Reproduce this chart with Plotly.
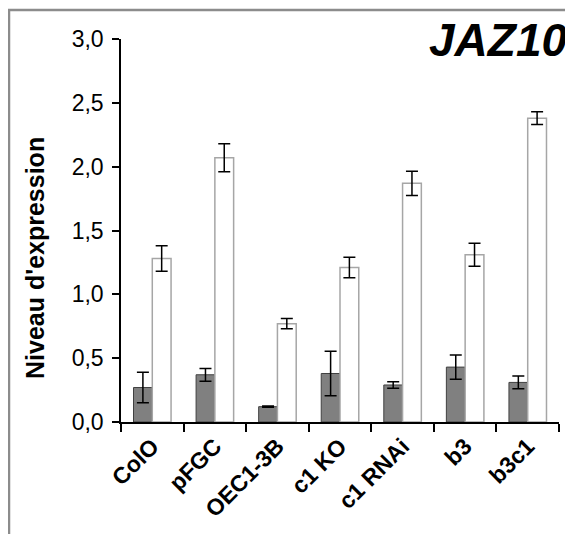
import plotly.graph_objects as go

# ── Data ──────────────────────────────────────────────────────────────────────
lines = ["ColO", "pFGC", "OEC1-3B", "c1 KO", "c1 RNAi", "b3", "b3c1"]
dark_vals = [0.27, 0.37, 0.12, 0.38, 0.29, 0.43, 0.31]
dark_err = [0.12, 0.05, 0.005, 0.175, 0.025, 0.095, 0.05]
white_vals = [1.28, 2.07, 0.77, 1.21, 1.87, 1.31, 2.38]
white_err = [0.10, 0.11, 0.04, 0.08, 0.095, 0.09, 0.05]
y_ticks = [0, 0.5, 1.0, 1.5, 2.0, 2.5, 3.0]

# ── Geometry (pixels) ─────────────────────────────────────────────────────────
# the page body has an 8px margin, so the figure is drawn 8px in from the corner
OFF = 8
W, H = 573 - OFF, 534 - OFF
ML, MR, MT, MB = 113, 14, 31, 112
PW, PH = W - ML - MR, H - MT - MB
FONT = "Liberation Sans, Arial, sans-serif"


def px_x(x):
    # x in window pixels -> paper coords
    return (x - OFF - ML) / PW


def px_y(y):
    return 1 - (y - OFF - MT) / PH


fig = go.Figure()
fig.add_trace(go.Bar(
    x=lines, y=dark_vals,
    marker=dict(color="#808080", line=dict(color="#404040", width=1)),
    error_y=dict(type="data", array=dark_err, color="#000000",
                 thickness=1.5, width=6),
    showlegend=False,
))
fig.add_trace(go.Bar(
    x=lines, y=white_vals,
    marker=dict(color="#ffffff", line=dict(color="#a6a6a6", width=1.5)),
    error_y=dict(type="data", array=white_err, color="#000000",
                 thickness=1.5, width=6),
    showlegend=False,
))

# outer frame (left + top border)
frame = dict(color="#8c8c8c", width=2.5)
fig.add_shape(type="line", xref="paper", yref="paper",
              x0=px_x(9), x1=px_x(9), y0=px_y(9), y1=px_y(540), line=frame)
fig.add_shape(type="line", xref="paper", yref="paper",
              x0=px_x(8), x1=px_x(580), y0=px_y(10), y1=px_y(10), line=frame)

fig.add_annotation(
    text="<b><i>JAZ10</i></b>", xref="paper", yref="paper",
    x=px_x(569), y=px_y(12), xanchor="right", yanchor="top",
    showarrow=False, font=dict(family=FONT, size=46, color="#000000"),
)
fig.add_annotation(
    text="<b>Niveau d'expression</b>", xref="paper", yref="paper",
    x=px_x(35), y=px_y(258), textangle=-90, xanchor="center", yanchor="middle",
    showarrow=False, font=dict(family=FONT, size=25, color="#000000"),
)

fig.update_layout(
    width=W, height=H,
    margin=dict(l=ML, r=MR, t=MT, b=MB),
    paper_bgcolor="#ffffff", plot_bgcolor="#ffffff",
    barmode="group", bargap=0.4, bargroupgap=0,
    separators=", ",
    font=dict(family=FONT, color="#000000"),
)
fig.update_yaxes(
    range=[0, 3], tickvals=y_ticks, tickformat=".1f",
    showline=True, linecolor="#000000", linewidth=1.5,
    ticks="outside", ticklen=7, tickcolor="#000000", tickwidth=1.5,
    ticklabelstandoff=4,
    showgrid=False, zeroline=False,
    tickfont=dict(family=FONT, size=23, color="#000000"),
)
fig.update_xaxes(
    showline=True, linecolor="#000000", linewidth=1.5,
    ticks="outside", tickson="boundaries", ticklen=8,
    tickcolor="#000000", tickwidth=1.5, tickangle=-45,
    showgrid=False,
    tickfont=dict(family=FONT, size=23, color="#000000"),
    ticktext=[f"<b>{c}</b>" for c in lines], tickvals=lines,
)

fig.write_html("out.html")
